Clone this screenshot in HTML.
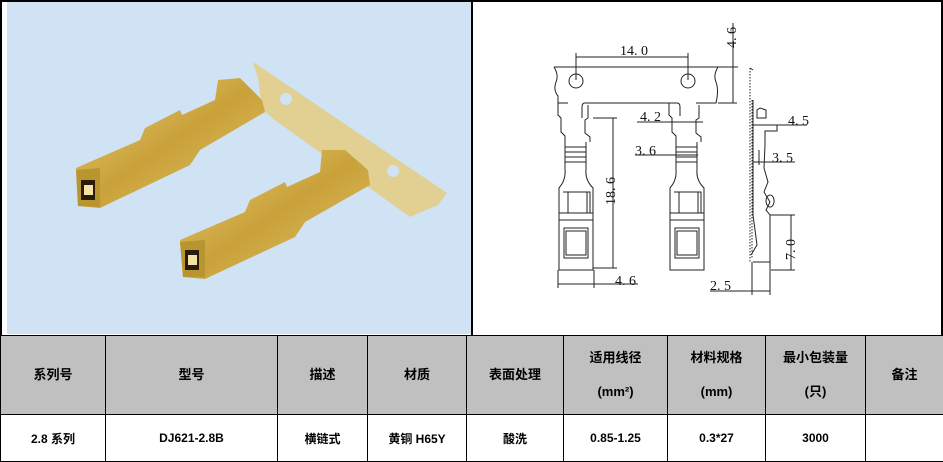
<!DOCTYPE html>
<html><head><meta charset="utf-8"><style>
*{margin:0;padding:0;box-sizing:border-box}
body{width:943px;height:462px;background:#fff;position:relative;overflow:hidden;font-family:"Liberation Sans","Noto Sans CJK SC",sans-serif}
.abs{position:absolute}
table{position:absolute;left:0;top:335px;width:943px;border-collapse:collapse;table-layout:fixed}
td{border:1.5px solid #000;text-align:center;font-weight:bold;font-size:13px;color:#000;font-family:"Liberation Sans","Noto Sans CJK SC",sans-serif}
tr.h td{background:#c0c0c0;height:79px;line-height:34px}
tr.d td{height:47px;font-size:12px}
</style></head><body>
<div class="abs" style="left:0;top:0;width:943px;height:336px;border:2px solid #000;border-bottom:none"></div>
<div class="abs" style="left:7px;top:2px;width:464px;height:332px;background:#cfe3f5"></div>
<div class="abs" style="left:471px;top:0;width:2px;height:336px;background:#000"></div>
<svg class="abs" style="left:0;top:0" width="472" height="335" viewBox="0 0 472 335">
<defs><linearGradient id="g" x1="0" y1="0" x2="1" y2="1"><stop offset="0" stop-color="#e8cf7a"/><stop offset="0.5" stop-color="#c9a13a"/><stop offset="1" stop-color="#e2c46a"/></linearGradient></defs>
<polygon points="253,62 447,193 438,205 410,217 272,118 262,108 258,78" fill="#e2cf92"/>
<circle cx="286" cy="99" r="6" fill="#cfe3f5"/><circle cx="393" cy="171" r="6" fill="#cfe3f5"/>
<polygon points="76,168 140,140 145,128 180,110 182,115 215,100 218,80 240,78 262,100 265,112 200,150 190,165 100,208 78,206" fill="url(#g)"/>
<polygon points="76,170 100,168 100,207 78,206" fill="#b8952e"/><rect x="81" y="180" width="14" height="20" fill="#2a1c08"/><rect x="84" y="185" width="9" height="10" fill="#f3e2a5"/>
<polygon points="180,240 245,212 250,200 285,182 287,187 320,172 322,150 345,150 368,170 370,185 305,222 295,237 205,279 183,277" fill="url(#g)"/>
<polygon points="180,242 205,240 205,277 183,277" fill="#b8952e"/><rect x="185" y="250" width="14" height="20" fill="#2a1c08"/><rect x="188" y="255" width="9" height="10" fill="#f3e2a5"/>
</svg>
<svg class="abs" style="left:470px;top:0" width="473" height="335" viewBox="0 0 473 335" fill="none" stroke="#222" stroke-width="1">
<g font-family="Liberation Serif,serif" font-size="14" fill="#111" stroke="none">
<text x="150" y="55">14. 0</text>
<text x="170" y="121">4. 2</text>
<text x="165" y="155">3. 6</text>
<text x="318" y="125">4. 5</text>
<text x="302" y="162">3. 5</text>
<text x="145" y="285">4. 6</text>
<text x="240" y="290">2. 5</text>
<text transform="translate(145,205) rotate(-90)">18. 6</text>
<text transform="translate(325,260) rotate(-90)">7. 0</text>
<text transform="translate(266,48) rotate(-90)">4. 6</text>
</g>
<path d="M84,67 H248 M84,67 q5,8 2,15 q-3,8 2,14 V103 H98 M248,67 q-5,8 -2,15 q3,8 0,21 H226"/>
<circle cx="106" cy="81" r="7"/><circle cx="218" cy="81" r="7"/>
<path d="M115,103 H207 q3,0 3,4 V116 M115,103 q-3,0 -3,4 V118"/>
<g id="t">
<path d="M88,103 V115 L91,118 V132 L95,136 V142 M118,105 V118 L115,120 V133 L120,137 V142 M95,142 V170 M116,142 V170 M95,147 H116 M95,152 H116 M95,157 H116 M95,162 H116 M95,170 Q96,180 89,188 V220 M116,170 Q115,180 123,188 V220 M93,192 H120 V213 M98,192 V213 M117,192 V213 M89,213 H123 M89,220 H123 V270 H89 Z M94,228 H118 V258 H94 Z M96,231 H116 V255 H96 Z"/>
</g>
<use href="#t" transform="translate(111,0)"/>
<path d="M106,53 V80 M218,53 V80 M106,57 H218 M263,23 V103 M248,67 H268 M248,103 H267"/>
<path d="M123,118 H147 M143,118 V268 M123,268 H147 M88,270 V288 M124,270 V288 M88,284 H168"/>
<path d="M167,122 H233 M165,155 H228"/>
<path d="M280,68 V262 M282,100 V258" stroke-dasharray="1.5 1.5"/>
<path d="M280,68 L283,70 M283,100 L283,215 L287,245 L281,255 M283,262 H300 V215 H320 M287,110 V118 H296 V110 L290,108 Z M283,125 H307 V131 H295 V145 L294,168 L298,182 L294,192 L300,202 L296,210 L300,215 M300,195 a4,6 0 1 0 0.1,0 M289,150 V165"/>
<path d="M282,125 H337 M283,162 H325 M301,215 H325 M301,270 H325 M321,215 V270 M282,262 V295 M300,262 V295 M240,291 H300"/>
</svg>
<table>
<colgroup><col style="width:105px"><col style="width:172px"><col style="width:90px"><col style="width:99px"><col style="width:97px"><col style="width:104px"><col style="width:98px"><col style="width:100px"><col style="width:78px"></colgroup>
<tr class="h"><td>系列号</td><td>型号</td><td>描述</td><td>材质</td><td>表面处理</td><td>适用线径<br>(mm²)</td><td>材料规格<br>(mm)</td><td>最小包装量<br>(只)</td><td>备注</td></tr>
<tr class="d"><td>2.8 系列</td><td>DJ621-2.8B</td><td>横链式</td><td>黄铜 H65Y</td><td>酸洗</td><td>0.85-1.25</td><td>0.3*27</td><td>3000</td><td></td></tr>
</table>
</body></html>
